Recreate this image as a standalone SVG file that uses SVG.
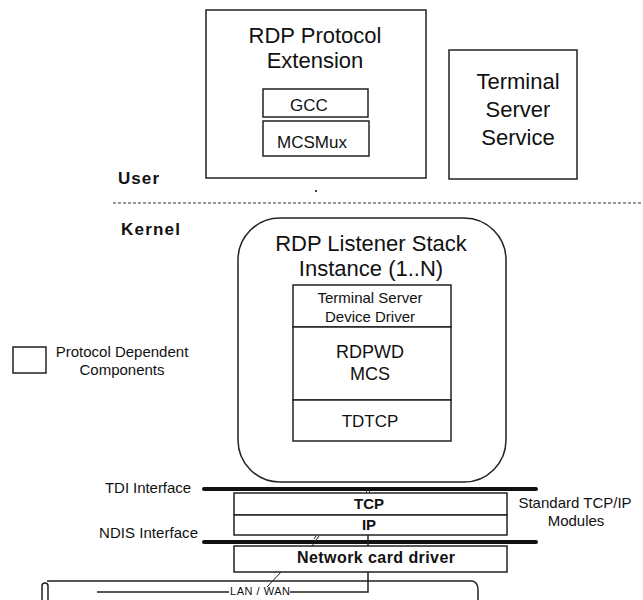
<svg xmlns="http://www.w3.org/2000/svg" width="643" height="600" viewBox="0 0 643 600">
<style>
text{font-family:"Liberation Sans",Arial,sans-serif;fill:#111}
.box{fill:#fff;stroke:#222;stroke-width:1.5}
.big{font-size:22px}
.mid{font-size:17px}
.sm{font-size:15px}
.b{font-weight:bold}
.ln{stroke:#222;stroke-width:1.5;fill:none}
.thick{stroke:#111;stroke-width:4;stroke-linecap:round}
</style>
<rect width="643" height="600" fill="#fff"/>
<g id="rdp-protocol-extension">
<rect class="box" x="206" y="10" width="220" height="168"/>
<text class="big" x="315" y="43" text-anchor="middle">RDP Protocol</text>
<text class="big" x="315" y="68" text-anchor="middle">Extension</text>
</g>
<g id="gcc">
<rect class="box" x="263" y="89" width="105" height="28"/>
<text class="mid" x="309" y="111" text-anchor="middle">GCC</text>
</g>
<g id="mcsmux">
<rect class="box" x="263" y="121" width="106" height="35"/>
<text class="mid" x="312" y="148" text-anchor="middle">MCSMux</text>
</g>
<g id="terminal-server-service">
<rect class="box" x="449" y="50" width="128" height="129"/>
<text class="big" x="518" y="89" text-anchor="middle">Terminal</text>
<text class="big" x="518" y="117" text-anchor="middle">Server</text>
<text class="big" x="518" y="145" text-anchor="middle">Service</text>
</g>
<rect x="315" y="190" width="2" height="2" fill="#444"/>
<g id="user-kernel">
<text class="b" style="font-size:17px" x="118" y="184" textLength="41" lengthAdjust="spacing">User</text>
<line x1="113" y1="203" x2="643" y2="203" stroke="#333" stroke-width="1.2" stroke-dasharray="3 2"/>
<text class="b" style="font-size:17px" x="121" y="235" textLength="59" lengthAdjust="spacing">Kernel</text>
</g>
<g id="listener-stack">
<rect class="box" x="238" y="218" width="268" height="264" rx="42" ry="42"/>
<text class="big" x="371" y="251" text-anchor="middle">RDP Listener Stack</text>
<text class="big" x="371" y="276" text-anchor="middle">Instance (1..N)</text>
</g>
<g id="terminal-server-device-driver">
<rect class="box" x="293" y="285" width="158" height="42"/>
<text class="sm" x="370" y="303" text-anchor="middle">Terminal Server</text>
<text class="sm" x="370" y="322" text-anchor="middle">Device Driver</text>
</g>
<g id="rdpwd-mcs">
<rect class="box" x="293" y="327" width="158" height="73"/>
<text style="font-size:18px" x="370" y="358" text-anchor="middle">RDPWD</text>
<text style="font-size:18px" x="370" y="380" text-anchor="middle">MCS</text>
</g>
<g id="tdtcp">
<rect class="box" x="293" y="400" width="158" height="41"/>
<text style="font-size:17px" x="370" y="427" text-anchor="middle">TDTCP</text>
</g>
<g id="legend">
<rect class="box" x="13" y="347" width="33" height="26"/>
<text class="sm" x="122" y="357" text-anchor="middle">Protocol Dependent</text>
<text class="sm" x="122" y="375" text-anchor="middle">Components</text>
</g>
<g id="tcp">
<rect class="box" x="234" y="493" width="273" height="22"/>
<text class="sm b" x="369" y="509" text-anchor="middle">TCP</text>
</g>
<g id="ip">
<rect class="box" x="234" y="515" width="273" height="20"/>
<text class="sm b" x="369" y="530" text-anchor="middle">IP</text>
</g>
<g id="network-card-driver">
<rect class="box" x="234" y="546" width="273" height="26"/>
<text class="b" style="font-size:16px" x="297" y="563" textLength="158" lengthAdjust="spacing">Network card driver</text>
</g>
<g id="labels">
<text class="sm" x="105" y="493" textLength="86" lengthAdjust="spacing">TDI Interface</text>
<text class="sm" x="99" y="538" textLength="99" lengthAdjust="spacing">NDIS Interface</text>
<text class="sm" x="575" y="508" text-anchor="middle">Standard TCP/IP</text>
<text class="sm" x="576" y="526" text-anchor="middle">Modules</text>
</g>
<g id="lan-wan">
<rect class="ln" x="42" y="583" width="6" height="30" rx="3"/>
<path class="ln" d="M47 581 L472 581 Q478 582 478 590 L478 600"/>
<text style="font-size:11px" x="230" y="595" textLength="60" lengthAdjust="spacing">LAN / WAN</text>
</g>
<g id="connectors">
<line class="thick" x1="204" y1="489" x2="536" y2="489"/>
<line class="thick" x1="204" y1="542" x2="536" y2="542"/>
<line stroke="#222" stroke-width="1" x1="366.5" y1="489" x2="366.5" y2="493"/>
<line stroke="#222" stroke-width="1" x1="369.5" y1="489" x2="369.5" y2="493"/>
<line class="ln" x1="368" y1="535" x2="368" y2="546"/>
<path class="ln" d="M368 572 L368 592 L290 592"/>
<line class="ln" x1="97" y1="592" x2="229" y2="592"/>
<line stroke="#222" stroke-width="1" x1="319" y1="536" x2="312" y2="546"/>
<line stroke="#222" stroke-width="1" x1="316" y1="536" x2="314" y2="539"/>
<line stroke="#222" stroke-width="1" x1="281" y1="572" x2="267" y2="587"/>
</g>
</svg>
